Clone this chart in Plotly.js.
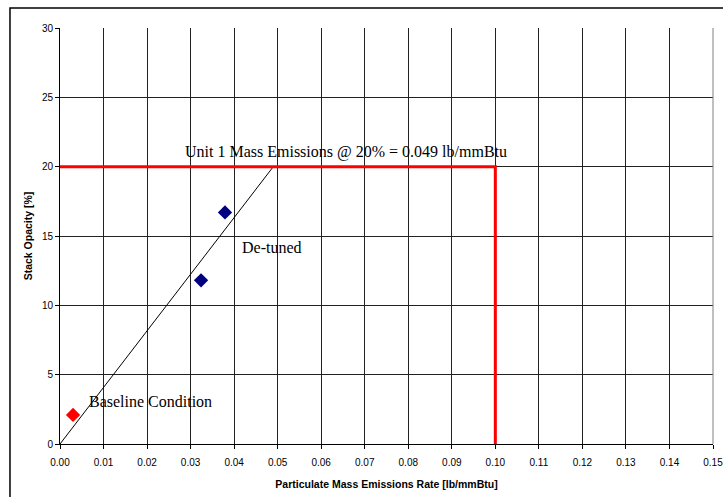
<!DOCTYPE html>
<html>
<head>
<meta charset="utf-8">
<script src="https://cdn.plot.ly/plotly-3.0.1.min.js"></script>
<style>html,body{margin:0;padding:0;background:#fff;}</style>
</head>
<body>
<div id="chart" style="width:723px;height:497px;"></div>
<script>
// Data
const baselineX = [0.003];
const baselineY = [2.1];
const detunedX = [0.0324, 0.0379];
const detunedY = [11.8, 16.7];
const trendX = [0, 0.049];
const trendY = [0, 20];
const limitX = [0, 0.10, 0.10];
const limitY = [20, 20, 0];
const xTicks = [0,0.01,0.02,0.03,0.04,0.05,0.06,0.07,0.08,0.09,0.10,0.11,0.12,0.13,0.14,0.15];
const yTicks = [0,5,10,15,20,25,30];

const traces = [
  {x: trendX, y: trendY, mode: 'lines', line: {color: '#000', width: 1}, hoverinfo: 'skip'},
  {x: limitX, y: limitY, mode: 'lines', line: {color: '#ff0000', width: 3}, hoverinfo: 'skip'},
  {x: detunedX, y: detunedY, mode: 'markers', marker: {symbol: 'diamond', size: 11, color: '#000080'}},
  {x: baselineX, y: baselineY, mode: 'markers', marker: {symbol: 'diamond', size: 11, color: '#ff0000'}}
];

const serif = {family: '"Liberation Serif", "Times New Roman", serif', size: 16, color: '#000'};
const boldT = {family: '"Liberation Sans", Arial, sans-serif', size: 10.5, weight: 'bold', color: '#000'};

const layout = {
  width: 723, height: 497,
  margin: {l: 60, r: 10, t: 28, b: 53},
  paper_bgcolor: '#fff', plot_bgcolor: '#fff',
  showlegend: false,
  font: {family: '"Liberation Sans", Arial, sans-serif', size: 10, color: '#000'},
  xaxis: {
    range: [0, 0.15], tickvals: xTicks, tickformat: '.2f',
    showgrid: true, gridcolor: '#222', gridwidth: 1,
    showline: true, linecolor: '#000', linewidth: 1,
    ticks: 'outside', ticklen: 4, tickcolor: '#000', ticklabelstandoff: 5,
    ticklabeloverflow: 'allow',
    zeroline: false, fixedrange: true,
    title: {text: 'Particulate Mass Emissions Rate [lb/mmBtu]', font: boldT, standoff: 13}
  },
  yaxis: {
    range: [0, 30], tickvals: yTicks,
    showgrid: true, gridcolor: '#222', gridwidth: 1,
    showline: true, linecolor: '#000', linewidth: 1,
    ticks: 'outside', ticklen: 4, tickcolor: '#000', ticklabelstandoff: 0,
    zeroline: false, fixedrange: true,
    title: {text: 'Stack Opacity [%]', font: boldT, standoff: 7}
  },
  shapes: [
    {type: 'rect', xref: 'paper', yref: 'paper', x0: -0.0766, x1: 1.2, y0: -0.3, y1: 1.048, line: {color: '#000', width: 1.5}, fillcolor: 'rgba(0,0,0,0)', layer: 'below'},
    {type: 'line', xref: 'paper', yref: 'paper', x0: 1, x1: 1, y0: 0, y1: 1, line: {color: '#808080', width: 1}}
  ],
  annotations: [
    {x: 0.0656, y: 21.05, xref: 'x', yref: 'y', text: 'Unit 1 Mass Emissions @ 20% = 0.049 lb/mmBtu', showarrow: false, font: serif, xanchor: 'center', yanchor: 'middle'},
    {x: 0.0486, y: 14.15, xref: 'x', yref: 'y', text: 'De-tuned', showarrow: false, font: serif, xanchor: 'center', yanchor: 'middle'},
    {x: 0.0207, y: 3.05, xref: 'x', yref: 'y', text: 'Baseline Condition', showarrow: false, font: serif, xanchor: 'center', yanchor: 'middle'}
  ]
};

Plotly.newPlot('chart', traces, layout, {staticPlot: true, displayModeBar: false});
</script>
</body>
</html>
